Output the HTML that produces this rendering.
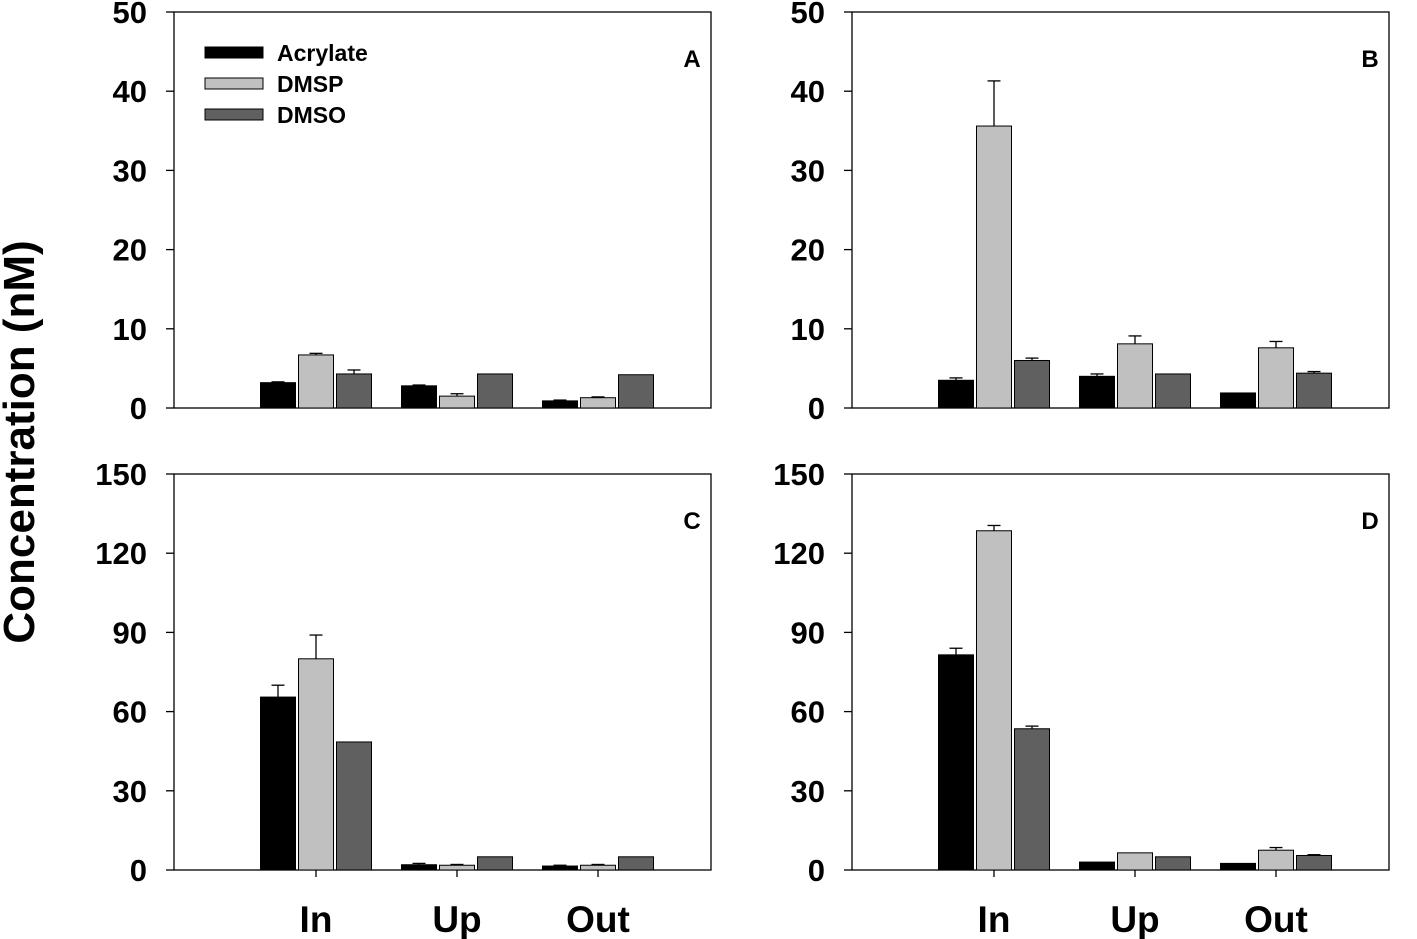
<!DOCTYPE html>
<html><head><meta charset="utf-8">
<style>
body{margin:0;background:#fff;}
svg{display:block;font-family:"Liberation Sans",Arial,sans-serif;font-weight:bold;}
</style></head><body>
<svg id="chart" width="1417" height="939" viewBox="0 0 1417 939">
<text x="0" y="0" transform="translate(34,442) rotate(-90)" text-anchor="middle" font-size="44">Concentration (nM)</text>
</svg>
<script>
const categories=["In","Up","Out"];
const series=["Acrylate","DMSP","DMSO"];
const colors=["#000000","#c0c0c0","#606060"];
const aVals=[[3.2,2.8,0.9],[6.7,1.5,1.3],[4.3,4.3,4.2]];
const aErr=[[0.1,0.1,0.1],[0.2,0.3,0.1],[0.5,0,0]];
const bVals=[[3.5,4.0,1.9],[35.6,8.1,7.6],[6.0,4.3,4.4]];
const bErr=[[0.3,0.3,0],[5.7,1.0,0.8],[0.3,0,0.2]];
const cVals=[[65.5,2,1.5],[80,1.8,1.8],[48.5,5,5]];
const cErr=[[4.5,0.5,0.3],[9,0.3,0.3],[0,0,0]];
const dVals=[[81.5,3,2.5],[128.5,6.5,7.5],[53.5,5,5.5]];
const dErr=[[2.5,0,0],[2,0,1],[1,0,0.3]];
const ticksTop=[0,10,20,30,40,50];
const ticksBottom=[0,30,60,90,120,150];

const svg=document.getElementById('chart');
const NS='http://www.w3.org/2000/svg';
function mk(tag,attrs,parent){const e=document.createElementNS(NS,tag);for(const k in attrs)e.setAttribute(k,attrs[k]);(parent||svg).appendChild(e);return e;}

function panel(x0,y0,letter,vals,errs,ticks,showX,showLegend){
  const W=537,H=396,ymax=ticks[ticks.length-1];
  const g=mk('g',{});
  
  
  const y=v=>y0+H-v/ymax*H;
  const cx=i=>x0+142+i*141;
  const box=mk('rect',{x:x0,y:y0,width:W,height:H,fill:'none',stroke:'#000','stroke-width':1.3},g);
  
  
  ticks.forEach(t=>{
    mk('line',{x1:x0-8,x2:x0,y1:y(t),y2:y(t),stroke:'#000','stroke-width':1.3},g);
    const tl=mk('text',{x:x0-27,y:y(t)+11,'text-anchor':'end','font-size':31},g);
    tl.textContent=t;
    
    
  });
  categories.forEach((c,i)=>{
    if(showX){
      mk('line',{x1:cx(i),x2:cx(i),y1:y0+H,y2:y0+H+7,stroke:'#000','stroke-width':1.3},g);
      const xl=mk('text',{x:cx(i),y:932,'text-anchor':'middle','font-size':37},g);
      xl.textContent=c;
      
      
    }
    series.forEach((s,j)=>{
      const bx=cx(i)+(j-1)*38-17.5, v=vals[j][i], e=errs[j][i];
      if(e>0){
        mk('line',{x1:bx+17.5,x2:bx+17.5,y1:y(v),y2:y(v+e),stroke:'#000','stroke-width':1.3},g);
        mk('line',{x1:bx+11,x2:bx+24,y1:y(v+e),y2:y(v+e),stroke:'#000','stroke-width':1.3},g);
      }
      const r=mk('rect',{x:bx,y:y(v),width:35,height:y(0)-y(v),fill:colors[j],stroke:'#000','stroke-width':1},g);
      
      
    });
  });
  const pl=mk('text',{x:x0+518,y:y0+55,'text-anchor':'middle','font-size':24},g);
  pl.textContent=letter;
  
  
  if(showLegend){
    series.forEach((s,j)=>{
      const ly=y0+40+j*31;
      const sw=mk('rect',{x:205,y:ly-5,width:58,height:11,fill:colors[j],stroke:'#000','stroke-width':1},g);
      
      
      const lt=mk('text',{x:277,y:ly+9,'font-size':23},g);
      lt.textContent=s;
      
      
    });
  }
}
panel(174,12,'A',aVals,aErr,ticksTop,false,true);
panel(852,12,'B',bVals,bErr,ticksTop,false,false);
panel(174,474,'C',cVals,cErr,ticksBottom,true,false);
panel(852,474,'D',dVals,dErr,ticksBottom,true,false);
</script>
</body></html>
